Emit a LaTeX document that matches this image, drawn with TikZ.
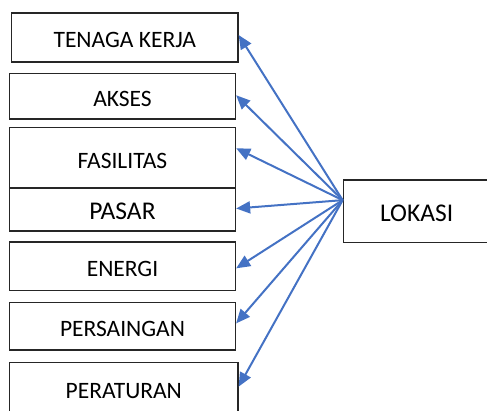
\documentclass[tikz,border=0pt]{standalone}
\usepackage{fontspec}
\setmainfont{Carlito}
\usetikzlibrary{arrows.meta}
\definecolor{biru}{RGB}{68,114,196}

\begin{document}
\begin{tikzpicture}[x=1pt,y=1pt,
  kotak/.style={draw=black!85,line width=1.3pt,minimum width=226pt,inner sep=0pt,
    text height=21pt,text depth=0pt,font=\fontsize{23.5}{28}\selectfont},
  besar/.style={font=\fontsize{25.5}{30}\selectfont},
  panah/.style={draw=biru,fill=biru,line width=2pt,-{Triangle[length=14pt,width=12pt]}}]
\clip (0,0) rectangle (487,410);
\node[kotak,minimum width=226.5pt,minimum height=49pt] (tenaga) at (124.75,372.5) {TENAGA KERJA};
\node[kotak,minimum height=45.5pt] (akses) at (122.5,313.75) {AKSES};
\node[kotak,minimum height=60.5pt] (fasilitas) at (122.5,252.25) {FASILITAS};
\node[kotak,besar,minimum height=43pt] (pasar) at (122.5,200.5) {PASAR};
\node[kotak,minimum height=48.7pt] (energi) at (122.5,143.65) {ENERGI};
\node[kotak,minimum height=47.3pt] (persaingan) at (122.5,83.65) {PERSAINGAN};
\node[kotak,minimum width=228.5pt,minimum height=50pt] (peraturan) at (123.75,22.35) {PERATURAN};
\node[kotak,besar,minimum width=146.7pt,minimum height=62.3pt] (lokasi) at (416.65,198.85) {LOKASI};
\coordinate (pusat) at ([yshift=11pt]lokasi.west);
% panah dari lokasi
\draw[panah] (pusat) -- ([yshift=2.5pt]tenaga.east);
\draw[panah] (pusat) -- ([yshift=1pt]akses.east);
\draw[panah] (pusat) -- ([yshift=9.5pt]fasilitas.east);
\draw[panah] (pusat) -- ([yshift=1pt]pasar.east);
\draw[panah] (pusat) -- ([yshift=-2pt]energi.east);
\draw[panah] (pusat) -- ([yshift=3pt]persaingan.east);
\draw[panah] (pusat) -- ([yshift=1pt]peraturan.east);
\end{tikzpicture}
\end{document}
